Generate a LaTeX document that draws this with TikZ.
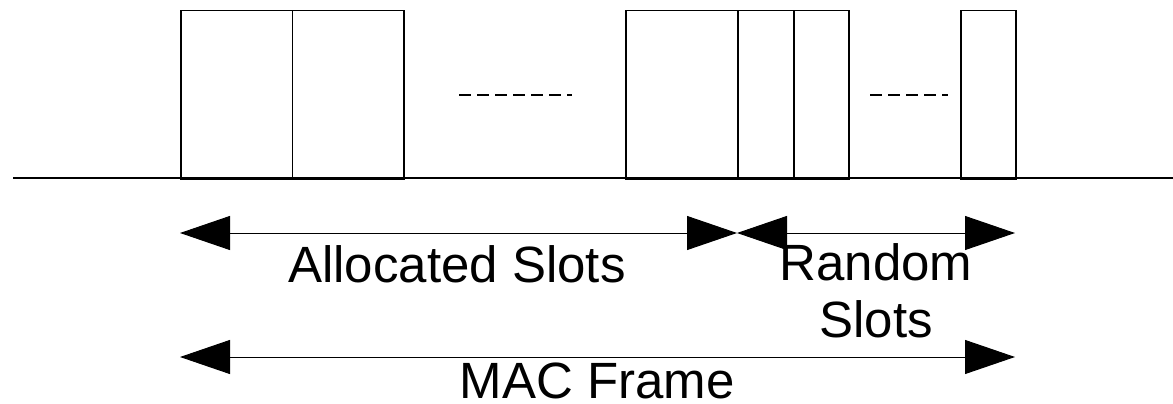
\documentclass[tikz,border=0pt]{standalone}
\usepackage{fontspec}
\setmainfont{Liberation Sans}
\usetikzlibrary{arrows.meta}
\begin{document}
\begin{tikzpicture}[x=1pt,y=-1pt,
  slot/.style={draw,line width=1.5pt,rectangle,inner sep=0pt,anchor=north west},
  lbl/.style={inner sep=0pt,anchor=base,font=\fontsize{51}{60}\selectfont},
  span/.style={line width=1pt,{Triangle[length=50pt,width=34pt]}-{Triangle[length=50pt,width=34pt]}},
  gap/.style={line width=1.4pt,dash pattern=on 12pt off 6pt}]
\useasboundingbox (0,0) rectangle (1173,404);
% time axis
\coordinate (axL) at (13,178);
\coordinate (axR) at (1173,178);
\draw[line width=1.4pt] (axL) -- (axR);
% slots
\node[slot,minimum width=111.5pt,minimum height=168pt] (s1) at (180,10) {};
\node[slot,minimum width=111.5pt,minimum height=168pt] (s2) at (291.5,10) {};
\node[slot,minimum width=112pt,minimum height=168pt] (s3) at (625,10) {};
\node[slot,minimum width=56pt,minimum height=168pt] (s4) at (737,10) {};
\node[slot,minimum width=55pt,minimum height=168pt] (s5) at (793,10) {};
\node[slot,minimum width=55pt,minimum height=168pt] (s6) at (960,10) {};
% gaps
\coordinate (g1a) at (459,95);
\coordinate (g1b) at (572,95);
\coordinate (g2a) at (870,95);
\coordinate (g2b) at (948,95);
\draw[gap] (g1a) -- (g1b);
\draw[gap] (g2a) -- (g2b);
% spans
\coordinate (aL) at (180,233);
\coordinate (aM) at (737,233);
\coordinate (aR) at (1015,233);
\coordinate (mL) at (180,357);
\coordinate (mR) at (1015,357);
\draw[span] (aL) -- (aM);
\draw[span] (aM) -- (aR);
\draw[span] (mL) -- (mR);
% labels
\node[lbl] (alloc) at (457,282) {Allocated Slots};
\node[lbl] (rand1) at (876,280) {Random};
\node[lbl] (rand2) at (876,337) {Slots};
\node[lbl,text depth=0pt] (mac) at (597,398) {MAC Frame};
\end{tikzpicture}
\end{document}
